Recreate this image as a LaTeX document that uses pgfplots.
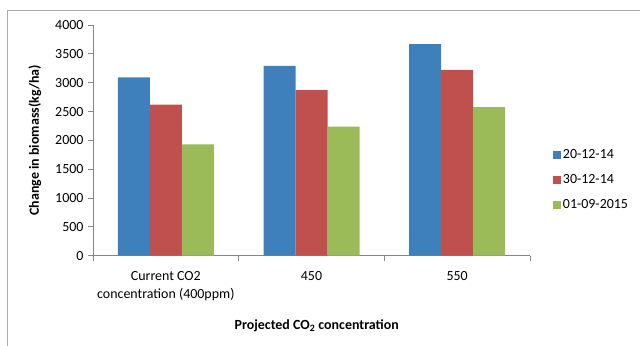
\documentclass[border=0pt]{standalone}
\usepackage{fontspec}
\setmainfont{Carlito}
\usepackage{pgfplots}
\pgfplotsset{compat=1.18}
\definecolor{serA}{HTML}{3E80BB}
\definecolor{serB}{HTML}{C0504D}
\definecolor{serC}{HTML}{9BBB59}
\definecolor{axisgray}{HTML}{868686}
\definecolor{framegray}{HTML}{ABABAB}

\begin{document}
\begin{tikzpicture}[x=1bp,y=1bp]
\useasboundingbox (0,0) rectangle (640,-345);
\clip (0,0) rectangle (640,-345);
% chart frame
\draw[framegray, line width=1bp] (7,-10) rectangle (700,-400);
\begin{axis}[
  at={(93bp,-255.7bp)}, anchor=south west,
  scale only axis, width=437bp, height=230.7bp,
  ybar=0pt, bar width=32bp,
  xmin=-0.5, xmax=2.5, ymin=0, ymax=4000,
  axis x line*=bottom, axis y line*=left,
  axis line style={axisgray, line width=0.8bp},
  every axis plot/.append style={draw=none},
  xtick={0,1,2},
  xticklabels={{Current CO2\\concentration (400ppm)}, 450, 550},
  major x tick style={draw=none},
  minor xtick={-0.5,0.5,1.5,2.5},
  minor x tick style={axisgray, line width=0.8bp},
  minor tick length=5bp,
  ytick={0,500,...,4000},
  major tick length=5bp,
  tick align=outside,
  y tick style={axisgray, line width=0.8bp},
  /pgf/number format/assume math mode=true,
  yticklabel style={font=\fontsize{14}{16}\selectfont, xshift=-1bp},
  xticklabel style={font=\fontsize{14}{18}\selectfont, align=center, yshift=-7bp},
  scaled y ticks=false,
  yticklabel={\pgfmathprintnumber[fixed, 1000 sep={}]{\tick}},
  ylabel={\bfseries Change in biomass(kg/ha)},
  ylabel style={at={(axis description cs:-0.133,0.5)}, anchor=center, font=\fontsize{14}{16}\selectfont},
  xlabel={\bfseries Projected CO\textsubscript{2} concentration},
  xlabel style={at={(axis description cs:0.512,-0.305)}, anchor=center, font=\fontsize{14}{16}\selectfont},
  legend style={at={(axis description cs:1.052,0.471)}, anchor=north west,
    draw=none, fill=none, font=\fontsize{14}{16}\selectfont,
    row sep=10.5bp, inner sep=0pt},
  legend cell align=left,
  legend image code/.code={\fill[#1] (0bp,-4bp) rectangle (8bp,4bp);},
]
\addplot[fill=serA] coordinates {(0,3090) (1,3290) (2,3670)};
\addplot[fill=serB] coordinates {(0,2620) (1,2870) (2,3220)};
\addplot[fill=serC] coordinates {(0,1930) (1,2240) (2,2575)};
\legend{20-12-14, 30-12-14, 01-09-2015}
\end{axis}
\end{tikzpicture}
\end{document}
